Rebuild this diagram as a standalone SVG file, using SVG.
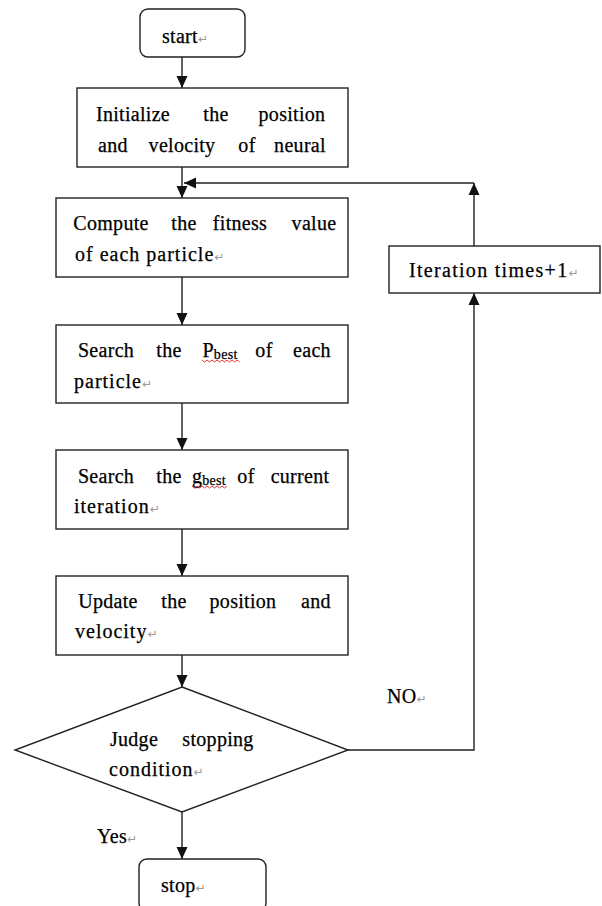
<svg xmlns="http://www.w3.org/2000/svg" width="602" height="906" viewBox="0 0 602 906">
<style>
.box{fill:#fff;stroke:#222;stroke-width:1.4}
.ln{fill:none;stroke:#222;stroke-width:1.4}
.t{font-family:"Liberation Serif","Times New Roman",serif;font-size:20px;fill:#000;stroke:#000;stroke-width:0.25px;letter-spacing:0.3px}
.m{text-anchor:middle}
.ret{font-family:"DejaVu Sans",sans-serif;font-size:12px;fill:#999;stroke:none;letter-spacing:0}
.sub{font-size:14px}
.sq{fill:none;stroke:#d22;stroke-width:0.9}
</style>
<defs>
<marker id="ah" markerUnits="userSpaceOnUse" markerWidth="12" markerHeight="12" viewBox="0 0 12 12" refX="12" refY="6" orient="auto">
<path d="M0,0.5 L12,6 L0,11.5 Z" fill="#111"/>
</marker>
</defs>
<rect width="602" height="906" fill="#fff"/>

<g id="connectors">
<line class="ln" x1="182" y1="57" x2="182" y2="88" marker-end="url(#ah)"/>
<line class="ln" x1="182" y1="167" x2="182" y2="198" marker-end="url(#ah)"/>
<line class="ln" x1="182" y1="277" x2="182" y2="325" marker-end="url(#ah)"/>
<line class="ln" x1="182" y1="403" x2="182" y2="450" marker-end="url(#ah)"/>
<line class="ln" x1="182" y1="529" x2="182" y2="576" marker-end="url(#ah)"/>
<line class="ln" x1="182" y1="655" x2="182" y2="687" marker-end="url(#ah)"/>
<line class="ln" x1="182" y1="812" x2="182" y2="859" marker-end="url(#ah)"/>
<polyline class="ln" points="348,750 474,750 474,293" marker-end="url(#ah)"/>
<line class="ln" x1="474" y1="246" x2="474" y2="183" marker-end="url(#ah)"/>
<line class="ln" x1="474" y1="183" x2="184" y2="183" marker-end="url(#ah)"/>
<text class="t" x="387" y="703">NO<tspan class="ret">↵</tspan></text>
<text class="t" x="97" y="843">Yes<tspan class="ret">↵</tspan></text>
</g>

<g id="start">
<rect class="box" x="140" y="9" width="105" height="48" rx="8"/>
<text class="t" x="162" y="43">start<tspan class="ret">↵</tspan></text>
</g>

<g id="init">
<rect class="box" x="77" y="88" width="271" height="79"/>
<text class="t m" y="121"><tspan x="133">Initialize</tspan><tspan x="216">the</tspan><tspan x="292">position</tspan></text>
<text class="t m" y="152"><tspan x="113">and</tspan><tspan x="182">velocity</tspan><tspan x="247">of</tspan><tspan x="300">neural</tspan></text>
</g>

<g id="compute">
<rect class="box" x="56" y="198" width="292" height="79"/>
<text class="t m" y="230"><tspan x="111">Compute</tspan><tspan x="184">the</tspan><tspan x="240">fitness</tspan><tspan x="314">value</tspan></text>
<text class="t" x="75" y="261" style="letter-spacing:1px">of each particle<tspan class="ret">↵</tspan></text>
</g>

<g id="pbest">
<rect class="box" x="56" y="325" width="292" height="78"/>
<text class="t m" y="357"><tspan x="106">Search</tspan><tspan x="169">the</tspan><tspan x="220">P</tspan><tspan class="sub" dy="2">best</tspan><tspan x="264" dy="-2">of</tspan><tspan x="312">each</tspan></text>
<path class="sq" d="M202,360 l2.5,2 l2.5,-2 l2.5,2 l2.5,-2 l2.5,2 l2.5,-2 l2.5,2 l2.5,-2 l2.5,2 l2.5,-2 l2.5,2 l2.5,-2 l2.5,2 l2.5,-2 l2.5,2"/>
<text class="t" x="74" y="388" style="letter-spacing:1px">particle<tspan class="ret">↵</tspan></text>
</g>

<g id="gbest">
<rect class="box" x="56" y="450" width="292" height="79"/>
<text class="t m" y="483"><tspan x="106">Search</tspan><tspan x="169">the</tspan><tspan x="209">g</tspan><tspan class="sub" dy="2">best</tspan><tspan x="246" dy="-2">of</tspan><tspan x="300">current</tspan></text>
<path class="sq" d="M192,486 l2.5,2 l2.5,-2 l2.5,2 l2.5,-2 l2.5,2 l2.5,-2 l2.5,2 l2.5,-2 l2.5,2 l2.5,-2 l2.5,2 l2.5,-2 l2.5,2 l2.5,-2"/>
<text class="t" x="74" y="513" style="letter-spacing:1px">iteration<tspan class="ret">↵</tspan></text>
</g>

<g id="update">
<rect class="box" x="56" y="576" width="292" height="79"/>
<text class="t m" y="608"><tspan x="108">Update</tspan><tspan x="174">the</tspan><tspan x="243">position</tspan><tspan x="316">and</tspan></text>
<text class="t" x="75" y="638" style="letter-spacing:1px">velocity<tspan class="ret">↵</tspan></text>
</g>

<g id="judge">
<polygon class="box" points="182,687 348,750 182,812 15,750"/>
<text class="t m" y="746"><tspan x="134">Judge</tspan><tspan x="218">stopping</tspan></text>
<text class="t" x="109" y="776" style="letter-spacing:1px">condition<tspan class="ret">↵</tspan></text>
</g>

<g id="iter">
<rect class="box" x="389" y="246" width="211" height="47"/>
<text class="t" x="409" y="277" style="letter-spacing:1.3px">Iteration times+1<tspan class="ret">↵</tspan></text>
</g>

<g id="stop">
<rect class="box" x="139" y="859" width="127" height="52" rx="8"/>
<text class="t" x="161" y="892">stop<tspan class="ret">↵</tspan></text>
</g>
</svg>
